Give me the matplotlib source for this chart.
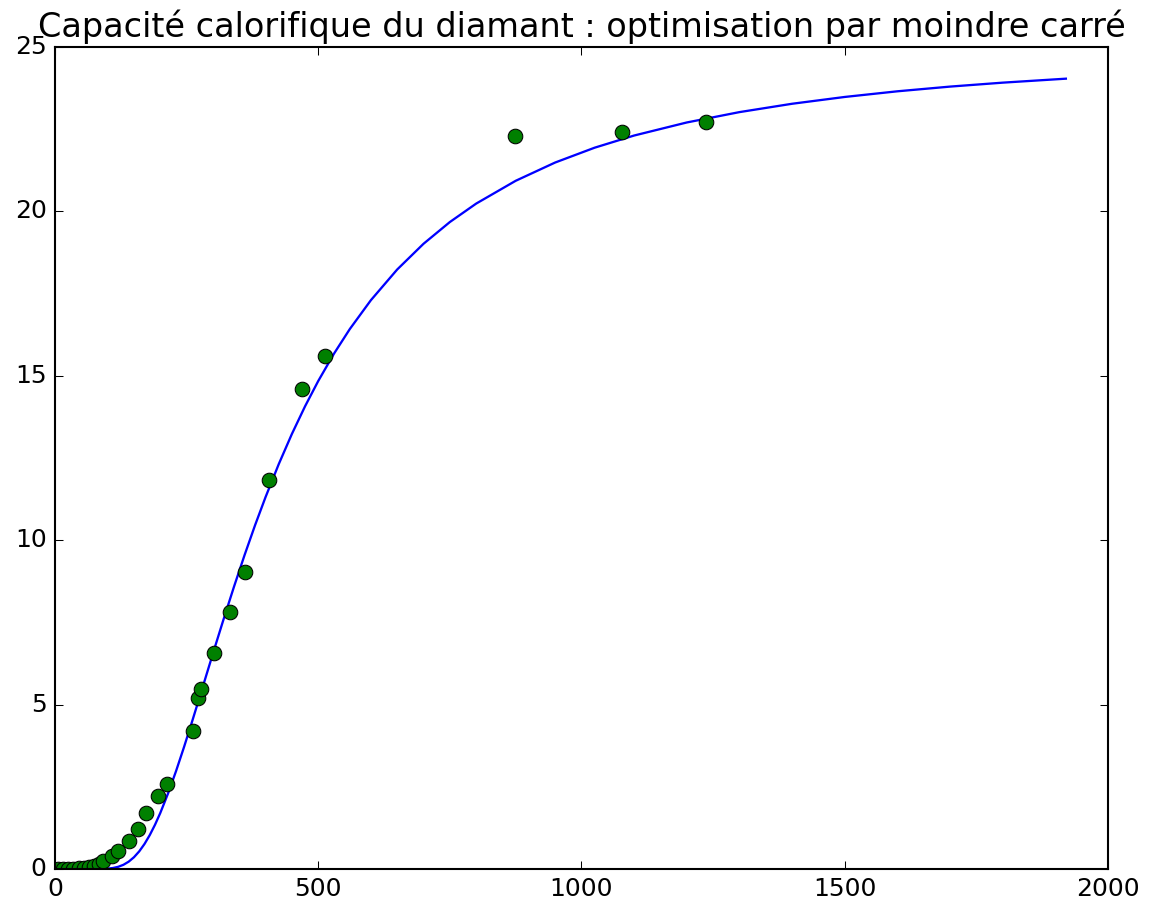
import numpy as np
import matplotlib
matplotlib.use('Agg')
import matplotlib.pyplot as plt

# mesures (T en K, C en J/mol/K)
T_mes = [5, 15, 25, 35, 45, 55, 65, 75, 84, 92, 108, 120, 141, 157, 173, 196, 212,
         262, 272, 277, 302, 332, 361, 406, 469, 513, 874, 1077, 1236]
C_mes = [0.0, 0.0, 0.01, 0.01, 0.02, 0.03, 0.05, 0.08, 0.14, 0.25, 0.40, 0.55, 0.86,
         1.22, 1.69, 2.23, 2.59, 4.2, 5.2, 5.47, 6.57, 7.82, 9.03, 11.83, 14.6, 15.6,
         22.29, 22.41, 22.72]

# courbe ajustée
T_fit = [20, 50, 80, 90, 100, 110, 120, 130, 140, 150, 160, 170, 180, 190, 200, 215,
         230, 245, 260, 275, 290, 305, 320, 340, 360, 380, 400, 425, 450, 475, 500,
         530, 560, 600, 650, 700, 750, 800, 875, 950, 1025, 1100, 1200, 1300, 1400,
         1500, 1600, 1700, 1800, 1920]
C_fit = [0.0, 0.0, 0.0007, 0.0034, 0.0113, 0.0299, 0.0661, 0.128, 0.2231, 0.3575,
         0.5358, 0.7602, 1.0308, 1.3461, 1.703, 2.3074, 2.9804, 3.7043, 4.4633, 5.2425,
         6.0287, 6.8121, 7.584, 8.5851, 9.5435, 10.455, 11.313, 12.313, 13.232, 14.073,
         14.841, 15.675, 16.422, 17.299, 18.233, 19.015, 19.676, 20.237, 20.93, 21.486,
         21.937, 22.307, 22.704, 23.019, 23.273, 23.48, 23.652, 23.795, 23.915, 24.036]

plt.style.use('classic')
fig = plt.figure(figsize=(7.7, 6.0467), dpi=150, facecolor='w')
ax = fig.add_axes([0.0476, 0.0419, 0.9117, 0.9063])
ax.plot(T_fit, C_fit, 'b-', lw=1.1)
ax.plot(T_mes, C_mes, 'go', markersize=7)
ax.set_xlim(0, 2000)
ax.set_ylim(0, 25)
ax.set_title('Capacité calorifique du diamant : optimisation par moindre carré', fontsize=16.1)

fig.savefig('out.png', dpi=150, facecolor='w')
